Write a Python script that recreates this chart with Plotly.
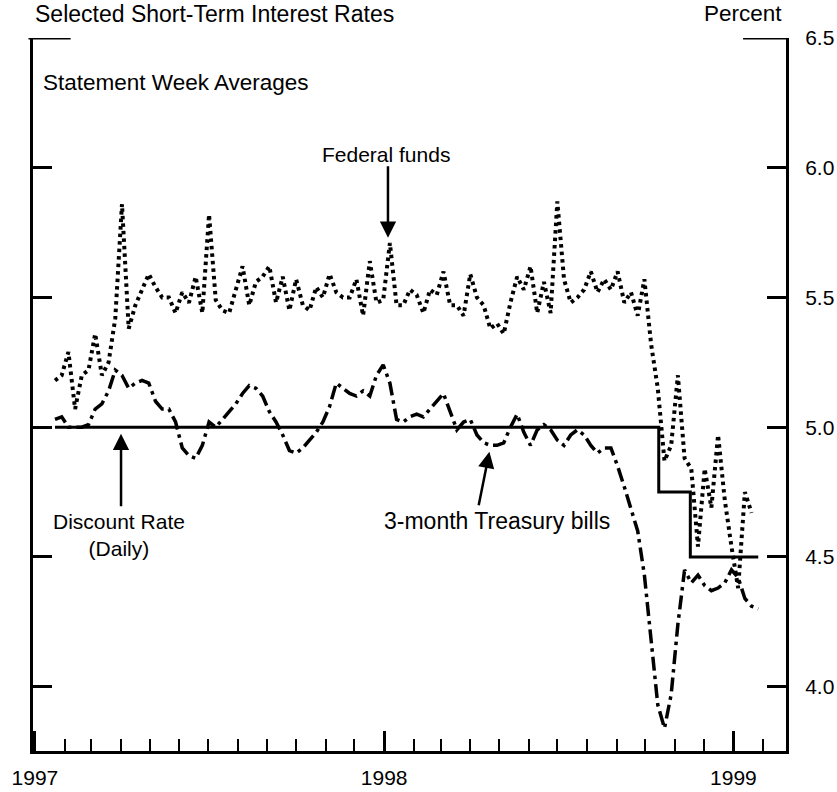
import plotly.graph_objects as go
import pandas as pd

# Weekly statement dates (Wednesdays)
week_dates = pd.date_range("1997-01-22", periods=106, freq="7D")

# Federal funds rate, statement week averages (percent)
fed_funds = [
    5.18, 5.20, 5.29, 5.07, 5.20, 5.22, 5.36, 5.20, 5.25, 5.42,
    5.86, 5.38, 5.47, 5.53, 5.59, 5.54, 5.50, 5.50, 5.44, 5.52,
    5.48, 5.58, 5.44, 5.82, 5.49, 5.45, 5.44, 5.53, 5.62, 5.47,
    5.56, 5.58, 5.62, 5.48, 5.58, 5.45, 5.57, 5.47, 5.45, 5.54,
    5.50, 5.59, 5.52, 5.50, 5.50, 5.57, 5.43, 5.64, 5.48, 5.49,
    5.71, 5.47, 5.47, 5.53, 5.51, 5.44, 5.53, 5.51, 5.60, 5.47,
    5.47, 5.43, 5.59, 5.50, 5.47, 5.38, 5.40, 5.36, 5.48, 5.58,
    5.53, 5.62, 5.44, 5.56, 5.44, 5.87, 5.57, 5.48, 5.50, 5.53,
    5.60, 5.52, 5.57, 5.53, 5.60, 5.48, 5.52, 5.43, 5.57, 5.32,
    5.15, 4.87, 4.93, 5.20, 4.88, 4.84, 4.54, 4.84, 4.69, 4.97,
    4.72, 4.54, 4.38, 4.75, 4.67, None,
]

# 3-month Treasury bill rate (percent)
tbill = [
    5.03, 5.04, 5.00, 5.00, 5.00, 5.01, 5.07, 5.09, 5.14, 5.22,
    5.20, 5.15, 5.17, 5.18, 5.17, 5.10, 5.07, 5.07, 5.02, 4.92,
    4.89, 4.88, 4.93, 5.02, 5.00, 5.03, 5.06, 5.09, 5.13, 5.16,
    5.15, 5.12, 5.06, 5.02, 4.97, 4.91, 4.90, 4.92, 4.95, 4.98,
    5.02, 5.08, 5.17, 5.15, 5.13, 5.12, 5.14, 5.12, 5.20, 5.24,
    5.17, 5.03, 5.02, 5.04, 5.05, 5.04, 5.07, 5.10, 5.13, 5.06,
    4.99, 5.02, 5.03, 4.97, 4.94, 4.93, 4.93, 4.94, 5.00, 5.05,
    4.98, 4.93, 4.99, 5.01, 4.99, 4.95, 4.93, 4.97, 4.99, 4.97,
    4.93, 4.90, 4.92, 4.92, 4.85, 4.77, 4.69, 4.60, 4.43, 4.17,
    3.93, 3.84, 3.97, 4.24, 4.45, 4.40, 4.43, 4.39, 4.37, 4.38,
    4.40, 4.45, 4.42, 4.34, 4.31, 4.30,
]

# Discount rate (daily), change dates
discount_dates = ["1997-01-22", "1998-10-15", "1998-11-17", "1999-01-27"]
discount_rates = [5.0, 4.75, 4.5, 4.5]

year_ticks = ["1997-01-01", "1998-01-01", "1999-01-01"]
year_labels = ["1997", "1998", "1999"]
y_ticks = [4.0, 4.5, 5.0, 5.5, 6.0, 6.5]
y_labels = ["4.0", "4.5", "5.0", "5.5", "6.0", "6.5"]

FONT = "Liberation Sans, Arial, Helvetica, sans-serif"

fig = go.Figure()
fig.add_trace(go.Scatter(
    x=week_dates, y=fed_funds, mode="lines", name="Federal funds",
    line=dict(color="black", width=4, dash="3.5px,4px"), connectgaps=False))
fig.add_trace(go.Scatter(
    x=week_dates, y=tbill, mode="lines", name="3-month Treasury bills",
    line=dict(color="black", width=3.5, dash="14px,5px,3.5px,5px")))
fig.add_trace(go.Scatter(
    x=discount_dates, y=discount_rates, mode="lines", name="Discount Rate",
    line=dict(color="black", width=3, shape="hv")))

fig.update_xaxes(
    type="date", range=["1996-12-30", "1999-02-25"], automargin=False,
    showline=True, linecolor="black", linewidth=3,
    tickmode="array", tickvals=year_ticks, ticktext=year_labels,
    ticks="inside", ticklen=20, tickwidth=3, tickcolor="black",
    ticklabelstandoff=6,
    minor=dict(dtick="M1", tick0="1997-01-01", ticks="inside", ticklen=12,
               tickwidth=2, tickcolor="black", showgrid=False),
    showgrid=False, zeroline=False,
    tickfont=dict(size=21, color="black", family=FONT),
)
fig.update_yaxes(
    range=[3.752, 6.5], side="right", automargin=False,
    showline=True, linecolor="black", linewidth=3, mirror="ticks",
    tickmode="array", tickvals=y_ticks, ticktext=y_labels,
    ticks="inside", ticklen=19, tickwidth=3, tickcolor="black",
    ticklabelstandoff=12,
    showgrid=False, zeroline=False,
    tickfont=dict(size=21, color="black", family=FONT),
)

# longer bracket ticks at the top of both axes
fig.add_shape(type="line", xref="paper", yref="y", x0=-0.006, x1=0.05, y0=6.5, y1=6.5,
              line=dict(color="black", width=3))
fig.add_shape(type="line", xref="paper", yref="y", x0=0.943, x1=1.0, y0=6.5, y1=6.5,
              line=dict(color="black", width=3))

def f(size):
    return dict(size=size, color="black", family=FONT)

annotations = [
    dict(text="Selected Short-Term Interest Rates", xref="paper", yref="paper",
         x=0.0, y=1.034, xanchor="left", yanchor="middle", showarrow=False, font=f(23)),
    dict(text="Statement Week Averages", xref="paper", yref="paper",
         x=0.01, y=0.938, xanchor="left", yanchor="middle", showarrow=False, font=f(22.5)),
    dict(text="Percent", xref="paper", yref="paper",
         x=0.998, y=1.035, xanchor="right", yanchor="middle", showarrow=False, font=f(22.5)),
    dict(text="Federal funds", xref="x", yref="y",
         x="1998-01-03", y=6.05, xanchor="center", yanchor="middle", showarrow=False, font=f(21)),
    dict(text="", xref="x", yref="y", x="1998-01-05", y=5.73, ax=0, ay=-73,
         showarrow=True, arrowhead=2, arrowsize=1.3, arrowwidth=2.5, arrowcolor="black"),
    dict(text="Discount Rate<br>(Daily)", xref="x", yref="y",
         x="1997-03-30", y=4.585, xanchor="center", yanchor="middle", showarrow=False, font=f(21)),
    dict(text="", xref="x", yref="y", x="1997-04-01", y=4.975, ax=0, ay=74,
         showarrow=True, arrowhead=2, arrowsize=1.3, arrowwidth=2.5, arrowcolor="black"),
    dict(text="3-month Treasury bills", xref="x", yref="y",
         x="1998-04-29", y=4.64, xanchor="center", yanchor="middle", showarrow=False, font=f(23)),
    dict(text="", xref="x", yref="y", x="1998-04-21", y=4.905, ax=-11, ay=55,
         showarrow=True, arrowhead=2, arrowsize=1.3, arrowwidth=2.5, arrowcolor="black"),
]

fig.update_layout(
    width=837, height=792,
    margin=dict(l=33, r=51, t=38, b=41),
    paper_bgcolor="white", plot_bgcolor="white",
    showlegend=False,
    font=dict(family=FONT, size=21, color="black"),
    annotations=annotations,
)

fig.write_html("out.html",
               config={"displayModeBar": False},
               post_script="document.body.style.margin='0';document.body.style.padding='0';")
